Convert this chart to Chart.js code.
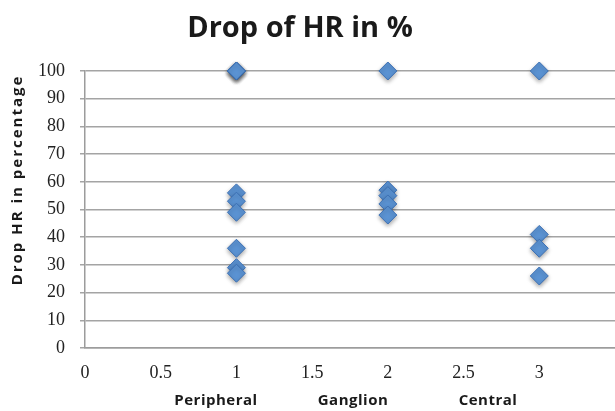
<!DOCTYPE html>
<html>
<head>
<meta charset="utf-8">
<script src="https://cdn.jsdelivr.net/npm/chart.js@4/dist/chart.umd.min.js"></script>
<style>
  html, body { margin: 0; padding: 0; background: #fff; overflow: hidden; }
  #wrap { width: 615px; height: 411px; position: relative; }
</style>
</head>
<body>
<div id="wrap"><canvas id="chart"></canvas></div>
<script>
// values (drop of HR, %)
const groupNames = ['Peripheral', 'Ganglion', 'Central'];
const groupX = [1, 2, 3];
const peripheral = [100, 100, 100, 56, 53, 49, 36, 29, 27];
const ganglion = [100, 57, 55, 52, 48];
const central = [100, 41, 36, 26];
const xTicks = [0, 0.5, 1, 1.5, 2, 2.5, 3];
const yTicks = [0, 10, 20, 30, 40, 50, 60, 70, 80, 90, 100];

const titleText = 'Drop of HR in %';
const yTitleText = 'Drop HR in percentage';

const groups = [peripheral, ganglion, central];
const points = [];
groups.forEach((vals, i) => {
    vals.forEach(v => points.push({ x: groupX[i], y: v }));
});

const boldFont = '"Open Sans", "Noto Sans", sans-serif';
const serifFont = '"Liberation Serif", "DejaVu Serif", serif';

// texts placed like the original
const textPlugin = {
    id: 'texts',
    afterDraw(chart) {
        const ctx = chart.ctx;
        ctx.save();
        ctx.fillStyle = '#1a1a1a';
        ctx.textAlign = 'center';
        ctx.textBaseline = 'alphabetic';
        ctx.font = 'bold 29px ' + boldFont;
        ctx.fillText(titleText, 300, 37);

        // axis name: the three group names spread under the axis
        ctx.font = 'bold 15px ' + boldFont;
        ctx.letterSpacing = '0.5px';
        const nameX = [216, 353, 488];
        groupNames.forEach((n, i) => ctx.fillText(n, nameX[i], 405));

        ctx.translate(18, 180);
        ctx.rotate(-Math.PI / 2);
        ctx.textBaseline = 'middle';
        ctx.font = 'bold 15px ' + boldFont;
        ctx.letterSpacing = '2px';
        ctx.fillText(yTitleText, 0, 0);
        ctx.restore();
    }
};

const shadowPlugin = {
    id: 'shadow',
    beforeDatasetDraw(chart) {
        const ctx = chart.ctx;
        ctx.save();
        ctx.shadowColor = 'rgba(0,0,0,0.35)';
        ctx.shadowBlur = 4;
        ctx.shadowOffsetY = 2;
    },
    afterDatasetDraw(chart) {
        chart.ctx.restore();
    }
};

new Chart(document.getElementById('chart'), {
    type: 'scatter',
    data: {
        datasets: [{
            data: points,
            pointStyle: 'rectRot',
            pointRadius: 9,
            pointHoverRadius: 9,
            backgroundColor: '#5b93d3',
            borderColor: '#3c70b4',
            borderWidth: 1,
            clip: false
        }]
    },
    options: {
        responsive: true,
        maintainAspectRatio: false,
        animation: false,
        layout: { autoPadding: false, padding: { top: 71, left: 0, right: 0, bottom: 0 } },
        plugins: {
            legend: { display: false },
            title: { display: false },
            tooltip: { enabled: false }
        },
        scales: {
            x: {
                type: 'linear',
                min: 0,
                max: 3.5,
                afterFit(scale) {
                    scale.height = 63;
                    scale.paddingLeft = 0;
                    scale.paddingRight = 0;
                },
                afterBuildTicks(scale) {
                    scale.ticks = xTicks.map(v => ({ value: v }));
                },
                grid: { display: false, drawTicks: false },
                border: { display: true, color: '#9c9c9c', width: 1.5 },
                ticks: {
                    padding: 14,
                    color: '#222',
                    font: { family: serifFont, size: 18 },
                    maxRotation: 0,
                    callback: v => String(v)
                }
            },
            y: {
                min: 0,
                max: 100,
                afterFit(scale) {
                    scale.width = 85;
                    scale.paddingTop = 0;
                    scale.paddingBottom = 0;
                },
                afterBuildTicks(scale) {
                    scale.ticks = yTicks.map(v => ({ value: v }));
                },
                grid: { color: '#a4a4a4', lineWidth: 1.5, tickLength: 5 },
                border: { display: true, color: '#9c9c9c', width: 1.5 },
                ticks: {
                    padding: 15,
                    color: '#222',
                    font: { family: serifFont, size: 18 },
                    callback: v => String(v)
                }
            }
        }
    },
    plugins: [shadowPlugin, textPlugin]
});
</script>
</body>
</html>
